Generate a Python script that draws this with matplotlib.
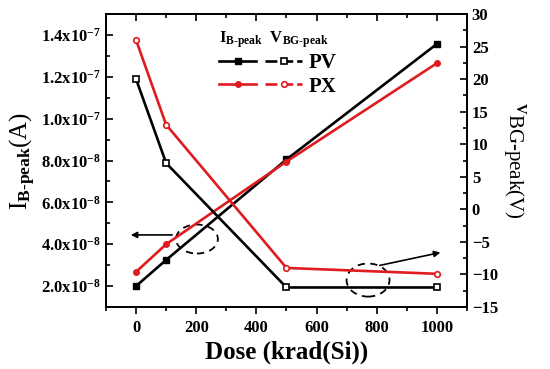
import matplotlib
matplotlib.use('Agg')
import matplotlib.pyplot as plt
from matplotlib.patches import Ellipse
from matplotlib.legend_handler import HandlerTuple
from matplotlib.lines import Line2D
import matplotlib.ticker as mt

# ---- data ----
dose = [0, 100, 500, 1000]
ib_pv = [2.0e-8, 3.25e-8, 8.05e-8, 1.357e-7]
ib_px = [2.68e-8, 4.0e-8, 7.95e-8, 1.265e-7]
vbg_pv = [20.0, 7.1, -12.0, -12.0]
vbg_px = [26.0, 13.0, -9.0, -9.9]
series_names = ['PV', 'PX']
left_ticks = [2e-8, 4e-8, 6e-8, 8e-8, 1.0e-7, 1.2e-7, 1.4e-7]
right_ticks = [-15, -10, -5, 0, 5, 10, 15, 20, 25, 30]
x_ticks = [0, 200, 400, 600, 800, 1000]

RED = '#e01b1f'

plt.rcParams['font.family'] = ['Liberation Serif', 'DejaVu Serif']
plt.rcParams['font.weight'] = 'bold'
plt.rcParams['mathtext.fontset'] = 'custom'
plt.rcParams['mathtext.rm'] = 'Liberation Serif:bold'
plt.rcParams['mathtext.it'] = 'Liberation Serif:bold'
plt.rcParams['mathtext.bf'] = 'Liberation Serif:bold'

fig = plt.figure(figsize=(5.5, 3.69), dpi=100)
ax = fig.add_axes([0.1927, 0.168, 0.6563, 0.794])
ax2 = ax.twinx()

lw = 1.9
ax.plot(dose, ib_pv, '-s', color='k', lw=lw, ms=4, mfc='k', zorder=3)
ax.plot(dose, ib_px, '-o', color=RED, lw=lw, ms=4, mfc=RED, zorder=3)
ax2.plot(dose, vbg_pv, '-s', color='k', lw=lw, ms=4, mfc='white', mew=1.2, zorder=3)
ax2.plot(dose, vbg_px, '-o', color=RED, lw=lw, ms=4, mfc='white', mew=1.2, zorder=3)

ax.set_xlim(-100, 1100)
ax.set_ylim(1e-8, 1.5e-7)
ax2.set_ylim(-15, 30)

ax.set_xticks(x_ticks)
ax.xaxis.set_minor_locator(mt.MultipleLocator(100))
ax.set_yticks(left_ticks)
def sci(v):
    e = int(f"{v:.1e}".split('e')[1])
    m = v / 10**e
    return f"{m:.1f}x10$^{{{e}}}$"
ax.set_yticklabels([sci(v) for v in left_ticks])
ax.yaxis.set_minor_locator(mt.MultipleLocator(1e-8))
ax2.set_yticks(right_ticks)
ax2.yaxis.set_minor_locator(mt.MultipleLocator(2.5))

ax.tick_params(axis='x', which='both', direction='out', top=False, labelsize=12, pad=4)
ax.tick_params(axis='y', which='both', direction='in', labelsize=12)
ax2.tick_params(axis='y', which='both', direction='in', labelsize=12)
for a in (ax, ax2):
    a.tick_params(which='major', length=5, width=1.2)
    a.tick_params(which='minor', length=3, width=1.2)

# top ticks pointing inward
secx = ax.secondary_xaxis('top')
secx.set_xticks(x_ticks)
secx.xaxis.set_minor_locator(mt.MultipleLocator(100))
secx.tick_params(which='both', direction='in', labeltop=False, width=1.2)
secx.tick_params(which='major', length=5)
secx.tick_params(which='minor', length=3)
secx.spines['top'].set_linewidth(1.3)

for s in ax.spines.values():
    s.set_linewidth(1.3)
for s in ax2.spines.values():
    s.set_linewidth(1.3)

ax.set_xlabel('Dose (krad(Si))', fontsize=18, fontweight='bold', labelpad=4)
ax.set_ylabel(r'I$_{\text{B-peak}}$(A)', fontsize=18, labelpad=2)
ax2.set_ylabel(r'$^{\mathrm{V}}$BG-peak(V)', fontsize=15, rotation=270, labelpad=21)

# annotations
e1 = Ellipse((0.252, 0.232), 0.116, 0.099, transform=ax.transAxes, fill=False,
             ls=(0, (4, 3)), lw=1.3, color='k')
e2 = Ellipse((0.726, 0.092), 0.119, 0.113, transform=ax.transAxes, fill=False,
             ls=(0, (4, 3)), lw=1.3, color='k')
ax.add_patch(e1)
ax.add_patch(e2)
ax.annotate('', xy=(0.061, 0.246), xytext=(0.191, 0.246), xycoords='axes fraction',
            arrowprops=dict(arrowstyle='-|>', color='k', lw=1.2, mutation_scale=9))
ax.annotate('', xy=(0.934, 0.188), xytext=(0.751, 0.140), xycoords='axes fraction',
            arrowprops=dict(arrowstyle='-|>', color='k', lw=1.2, mutation_scale=9))

# legend
h = []
for c, m in [('k', 's'), (RED, 'o')]:
    a = Line2D([], [], color=c, lw=lw, marker=m, ms=4, mfc=c)
    b = Line2D([], [], color=c, lw=lw, ls=(0, (4.5, 1.5)), marker=m, ms=4, mfc='white', mew=1.2)
    h.append((a, b))
leg = ax.legend(h, series_names, handler_map={tuple: HandlerTuple(ndivide=None, pad=0.4)},
                loc='upper left', bbox_to_anchor=(0.29, 0.975), frameon=False,
                handlelength=4.0, fontsize=15, title=r'I$_{\text{B-peak}}$  V$_{\text{BG-peak}}$',
                title_fontsize=12, alignment='left', labelspacing=0.15, handletextpad=0.3,
                borderaxespad=0)

fig.savefig('out.png', dpi=100)
